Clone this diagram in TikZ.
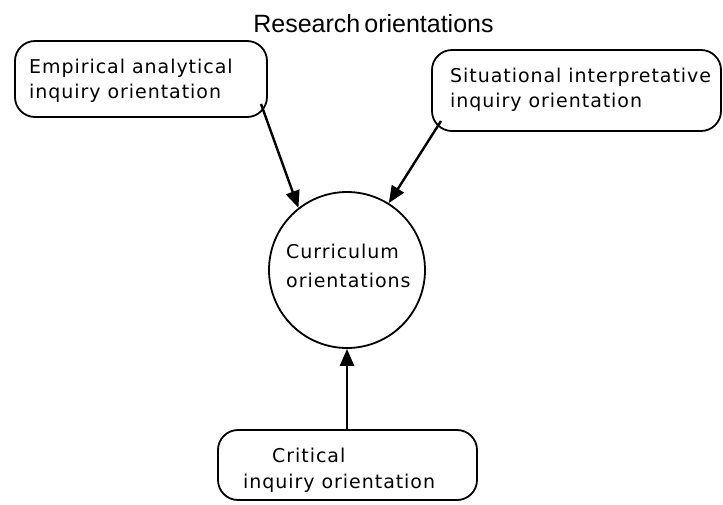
\documentclass[tikz,border=0pt]{standalone}
\usepackage{fontspec}
\setmainfont[LetterSpace=5]{DejaVu Sans}
\newfontfamily\titlefont{Liberation Sans}
\usetikzlibrary{arrows.meta}
\begin{document}
\begin{tikzpicture}[x=1pt,y=-1pt,
  box/.style={draw, line width=1.8pt, rounded corners=20pt, inner sep=0pt},
  txt/.style={anchor=base west, inner sep=0pt, font=\fontsize{19}{22}\selectfont},
  circ/.style={draw, circle, line width=1.8pt, inner sep=0pt, minimum size=156pt},
  arr/.style={line width=2.4pt, -{Triangle[length=17pt,width=14pt]}}]
\useasboundingbox (0,0) rectangle (723,504);
\node[anchor=base, inner sep=0pt, font=\titlefont\fontsize{25}{28}\selectfont] (title) at (373.5,32) {Research\kern4pt orientations};
\node[box, minimum width=252pt, minimum height=76pt] (emp) at (141,79) {};
\node[txt] (empa) at (29,73) {Empirical analytical};
\node[txt] (empb) at (29,98) {inquiry orientation};
\node[box, minimum width=289pt, minimum height=81pt] (sit) at (576.5,90.5) {};
\node[txt] (sita) at (450,82) {Situational interpretative};
\node[txt] (sitb) at (450,107) {inquiry orientation};
\node[circ] (cur) at (347,270) {};
\node[txt] (cura) at (286,258) {Curriculum};
\node[txt] (curb) at (286,287) {orientations};
\node[box, minimum width=259pt, minimum height=70pt] (cri) at (347.5,465) {};
\node[txt] (cria) at (272,462) {Critical};
\node[txt] (crib) at (243,488) {inquiry orientation};
\coordinate (ea) at (261,104);
\coordinate (sa) at (441,121);
\draw[arr] (ea) -- (cur.128);
\draw[arr] (sa) -- (cur.58);
\draw[arr] (cri.north -| cur.south) -- (cur.south);
\end{tikzpicture}
\end{document}
